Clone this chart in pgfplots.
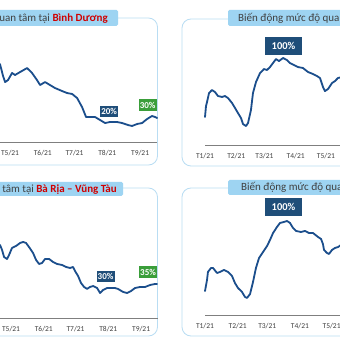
\documentclass[border=0pt]{standalone}
\usepackage{fontspec}
\setmainfont{Carlito}
\usepackage{pgfplots}
\pgfplotsset{compat=1.18}
\definecolor{lineblue}{HTML}{1B4E8C}
\definecolor{boxblue}{HTML}{1F4E79}
\definecolor{boxgreen}{HTML}{3A9E3A}
\definecolor{tabblue}{HTML}{9ED4F2}
\definecolor{framebl}{HTML}{B9DDF3}
\definecolor{titlered}{HTML}{D00000}
\definecolor{axgray}{HTML}{7F7F7F}
\definecolor{txtgray}{HTML}{404040}
\tikzset{
  smallbox/.style={text=white, font=\bfseries\fontsize{9}{10}\selectfont, minimum width=18pt, minimum height=11.5pt, inner sep=0pt},
  bigbox/.style={fill=boxblue, text=white, font=\bfseries\fontsize{10.5}{11}\selectfont, minimum width=37pt, minimum height=18pt, inner sep=0pt},
  ser/.style={draw=lineblue, line width=1.8pt, mark=none, line join=round, line cap=round},
  ttl/.style={inner sep=0pt, font=\fontsize{11}{13}\selectfont, text=txtgray}
}
\pgfplotsset{panel/.style={scale only axis, anchor=south west,
  axis x line=bottom, axis y line=none,
  x axis line style={-, draw=axgray, line width=0.9pt},
  xtick style={draw=none}, ymin=0, ymax=100, clip=false,
  xticklabel style={font=\fontsize{7.5}{8}\selectfont, text=txtgray, yshift=-3pt}},
  leftx/.style={xmin=100, xmax=259, xtick={120,151,181,212,243}, xticklabels={T5/21,T6/21,T7/21,T8/21,T9/21}},
  rightx/.style={xmin=0, xmax=140, xtick={0,31,59,90,120}, xticklabels={T1/21,T2/21,T3/21,T4/21,T5/21}}
}
\begin{document}
\begin{tikzpicture}[x=1pt,y=1pt]
\useasboundingbox (0,0) rectangle (340,340);
\fill[white] (0,0) rectangle (340,340);
\begin{scope}
\clip (0,0) rectangle (340,340);
% frames
\draw[framebl, line width=0.8pt, rounded corners=9pt] (-30,175) rectangle (157.5,322);
\draw[framebl, line width=0.8pt, rounded corners=9pt] (182,174) rectangle (370,321);
\draw[framebl, line width=0.8pt, rounded corners=9pt] (-30,4) rectangle (157.5,152);
\draw[framebl, line width=0.8pt, rounded corners=9pt] (182,4) rectangle (370,152);
% tabs
\fill[tabblue, rounded corners=1.5pt] (-30,314) rectangle (118,330);
\fill[tabblue, rounded corners=1.5pt] (228,314) rectangle (370,330);
\fill[tabblue, rounded corners=1.5pt] (-30,144) rectangle (123,158);
\fill[tabblue, rounded corners=1.5pt] (228,145) rectangle (370,160);
\node[ttl, anchor=east] at (108,322) {Biến động mức độ quan tâm tại {\bfseries\color{titlered}Bình Dương}};
\node[ttl, anchor=west] at (238,322) {Biến động mức độ quan tâm};
\node[ttl, anchor=east] at (117,151) {Biến động mức độ quan tâm tại {\bfseries\color{titlered}Bà Rịa – Vũng Tàu}};
\node[ttl, anchor=west] at (241,152.5) {Biến động mức độ quan tâm};
% top-left: Binh Duong
\begin{axis}[panel, leftx, at={(-11.1pt,198pt)}, width=168.1pt, height=87pt]
\addplot[ser] coordinates {(110.5,89.6) (113.4,75.8) (115.3,68.9) (118.1,71.2) (121.9,79.3) (124.7,77.0) (129.5,80.4) (136.1,85.0) (140.8,79.3) (145.5,71.2) (148.4,65.5) (153.1,68.9) (157.8,65.5) (162.6,62.0) (169.2,58.6) (173.9,56.3) (178.7,55.2) (183.4,50.6) (188.1,40.2) (191.9,28.7) (195.7,28.7) (200.4,28.7) (205.1,25.3) (209.9,21.8) (214.6,23.0) (221.2,23.0) (226.0,21.8) (231.6,19.5) (235.4,18.4) (240.2,20.7) (244.9,21.8) (249.6,26.4) (254.3,29.9) (257.2,28.7) (259.1,27.6)};
\node[smallbox, fill=boxblue] at (axis cs:213.7,35) {20\%};
\node[smallbox, fill=boxgreen] at (axis cs:250.1,42.5) {30\%};
\end{axis}
% top-right
\begin{axis}[panel, rightx, at={(205pt,195pt)}, width=141.1pt, height=87pt]
\addplot[ser] coordinates {(0,32.2) (1.0,44.8) (2.0,49.4) (4.0,59.7) (6.9,63.2) (9.9,60.9) (12.9,56.3) (16.9,55.2) (19.8,56.3) (22.8,54.0) (26.8,48.3) (29.8,42.5) (32.7,36.8) (35.7,31.0) (37.7,24.1) (40.7,21.8) (42.7,25.3) (45.6,40.2) (47.6,59.7) (50.6,72.4) (54.6,82.7) (58.5,87.3) (61.5,86.2) (64.5,89.6) (67.5,94.2) (70.4,98.8) (73.4,96.5) (77.4,100) (81.3,97.7) (84.3,94.2) (88.3,91.9) (92.3,89.6) (97.2,88.5) (102.2,83.9) (107.1,81.6) (111.1,79.3) (114.1,77.0) (117.1,66.6) (119.0,62.0) (122.0,64.3) (126.0,71.2) (129.0,73.5) (131.9,77.0) (135.9,78.1)};
\node[bigbox] at (axis cs:77.9,113.8) {100\%};
\end{axis}
% bottom-left: Ba Ria - Vung Tau
\begin{axis}[panel, leftx, at={(-10.1pt,22pt)}, width=168.1pt, height=94pt]
\addplot[ser] coordinates {(109.6,77.7) (111.5,72.4) (113.4,64.9) (116.2,62.8) (118.1,67.0) (120.9,74.5) (124.7,76.6) (128.5,79.8) (131.4,80.9) (134.2,79.8) (137.0,75.5) (140.8,69.2) (143.7,61.7) (146.5,57.5) (149.3,58.5) (152.2,62.8) (156.0,62.8) (159.7,59.6) (163.5,57.5) (168.2,56.4) (172.0,54.3) (175.8,53.2) (178.6,54.3) (180.5,50.0) (183.4,44.7) (186.2,37.2) (189.1,33.0) (191.9,30.9) (194.7,33.0) (197.6,34.0) (201.4,31.9) (204.2,26.6) (207.0,29.8) (210.8,31.9) (214.6,31.9) (218.4,31.9) (221.2,30.9) (226.0,27.7) (229.7,26.6) (233.5,28.7) (237.3,31.9) (242.0,33.0) (246.8,33.0) (251.5,35.1) (256.2,36.2) (258.1,36.2)};
\node[smallbox, fill=boxblue] at (axis cs:209.4,44.2) {30\%};
\node[smallbox, fill=boxgreen] at (axis cs:249.6,48.9) {35\%};
\end{axis}
% bottom-right
\begin{axis}[panel, rightx, at={(205pt,25pt)}, width=147.7pt, height=94pt]
\addplot[ser] coordinates {(0,25.5) (1.9,37.2) (2.8,45.8) (5.7,50.0) (7.6,50.0) (11.4,44.7) (14.2,45.8) (18.0,47.9) (21.8,45.8) (25.6,41.5) (28.4,34.0) (31.3,28.7) (35.1,24.5) (37.9,19.2) (39.8,18.1) (42.7,22.3) (45.5,35.1) (48.3,50.0) (51.2,60.6) (55.0,67.0) (58.8,73.4) (61.6,79.8) (64.5,87.2) (68.2,93.6) (71.1,97.9) (74.9,99.0) (77.7,100) (80.6,97.9) (83.4,92.6) (86.3,89.4) (91.0,88.3) (94.8,89.4) (98.6,87.2) (102.4,87.2) (107.1,83.0) (110.0,80.9) (111.8,75.5) (112.8,69.2) (115.6,66.0) (117.5,64.9) (120.4,69.2) (123.2,71.3) (126.1,72.3) (128.9,74.5)};
\node[bigbox] at (axis cs:74.4,114.9) {100\%};
\end{axis}
\end{scope}
\end{tikzpicture}
\end{document}
